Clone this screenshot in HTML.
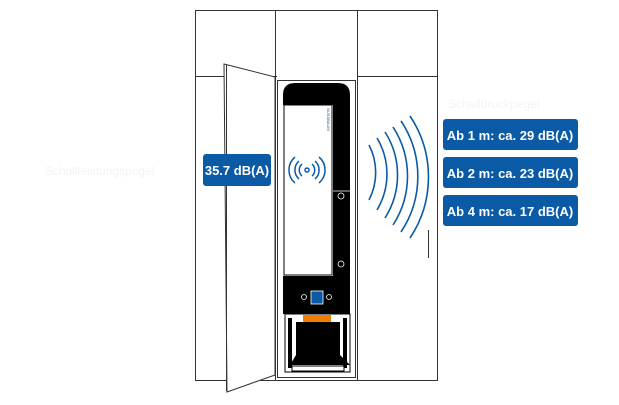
<!DOCTYPE html>
<html><head><style>
body{margin:0;background:#fff;}
svg{display:block;font-family:"Liberation Sans","DejaVu Sans",sans-serif;}
</style></head><body>
<svg width="619" height="405" viewBox="0 0 619 405" xmlns="http://www.w3.org/2000/svg">
<g fill="none" stroke="#333" stroke-width="1">
<rect x="195.5" y="10.5" width="242" height="370"/>
<line x1="195" y1="76.5" x2="277" y2="76.5"/>
<line x1="357" y1="76.5" x2="437" y2="76.5"/>
<line x1="275.5" y1="10" x2="275.5" y2="380"/>
<line x1="357.5" y1="10" x2="357.5" y2="380"/>
<rect x="277.5" y="80.5" width="78" height="297"/>
<line x1="428.5" y1="230" x2="428.5" y2="258"/>
</g>
<polygon points="224,64 275,77 275,375 227,392" fill="#fff" stroke="#333" stroke-width="1"/>
<line x1="226.5" y1="65" x2="226.5" y2="391" stroke="#333"/>
<path d="M283,105 L283,95 Q283,83 295,83 L338,83 Q350,83 350,95 L350,105 Z" fill="#000"/>
<rect x="284" y="105" width="48" height="170" fill="#fff" stroke="#000"/>
<rect x="333" y="105" width="17" height="175" fill="#000"/>
<line x1="333" y1="191" x2="350" y2="191" stroke="#fff" stroke-width="0.7"/>
<circle cx="341" cy="196" r="3" fill="none" stroke="#fff" stroke-width="0.8"/>
<circle cx="341" cy="264" r="3" fill="none" stroke="#fff" stroke-width="0.8"/>
<rect x="283" y="276" width="67" height="38" fill="#000"/>
<rect x="311" y="291" width="12" height="13" fill="#0a5aa6" stroke="#fff" stroke-width="0.8"/>
<circle cx="304" cy="297" r="2.5" fill="none" stroke="#fff" stroke-width="0.8"/>
<circle cx="329" cy="297" r="2.5" fill="none" stroke="#fff" stroke-width="0.8"/>
<rect x="285" y="314" width="65" height="58" fill="#fff" stroke="#000"/>
<rect x="303" y="315" width="28" height="8" fill="#f07d00"/>
<path d="M296,322 L340,322 L340,355 L350,365 L290,365 L296,355 Z" fill="#000"/>
<rect x="288" y="318" width="4" height="50" fill="#000"/>
<rect x="343" y="318" width="4" height="50" fill="#000"/>
<rect x="292" y="366" width="52" height="5" fill="#fff" stroke="#000"/>
<text x="327" y="108" font-size="4" fill="#0a5aa6" transform="rotate(90 327 108)">NUSSBAUM</text>
<g fill="none" stroke="#0a5aa6" stroke-width="1.5">
<circle cx="307" cy="170" r="2"/>
<path d="M302,164 A8,8 0 0 0 302,176 M312,164 A8,8 0 0 1 312,176"/>
<path d="M299,161 A12,12 0 0 0 299,179 M315,161 A12,12 0 0 1 315,179"/>
<path d="M295,157 A17,17 0 0 0 295,183 M319,157 A17,17 0 0 1 319,183"/>
</g>
<g fill="none" stroke="#0a5aa6" stroke-width="1.6">
<path d="M369,145 A60,60 0 0 1 369,200"/>
<path d="M377,138 A70,70 0 0 1 377,210"/>
<path d="M385,132 A80,80 0 0 1 385,218"/>
<path d="M393,127 A90,90 0 0 1 393,225"/>
<path d="M401,121 A100,100 0 0 1 401,232"/>
<path d="M410,116 A110,110 0 0 1 410,238"/>
</g>
<g fill="#0a5aa6">
<rect x="203" y="154" width="68" height="32" rx="3"/>
<rect x="443" y="119" width="135" height="31" rx="3"/>
<rect x="443" y="157" width="135" height="31" rx="3"/>
<rect x="443" y="195" width="135" height="31" rx="3"/>
</g>
<g fill="#fff" font-weight="bold" font-size="13" text-anchor="middle">
<text x="237" y="175">35.7 dB(A)</text>
<text x="510" y="140">Ab 1 m: ca. 29 dB(A)</text>
<text x="510" y="178">Ab 2 m: ca. 23 dB(A)</text>
<text x="510" y="216">Ab 4 m: ca. 17 dB(A)</text>
</g>
<g fill="#f4f4f4" font-size="12">
<text x="45" y="175">Schallleistungspegel</text>
<text x="448" y="108">Schalldruckpegel</text>
</g>
</svg>
</body></html>
